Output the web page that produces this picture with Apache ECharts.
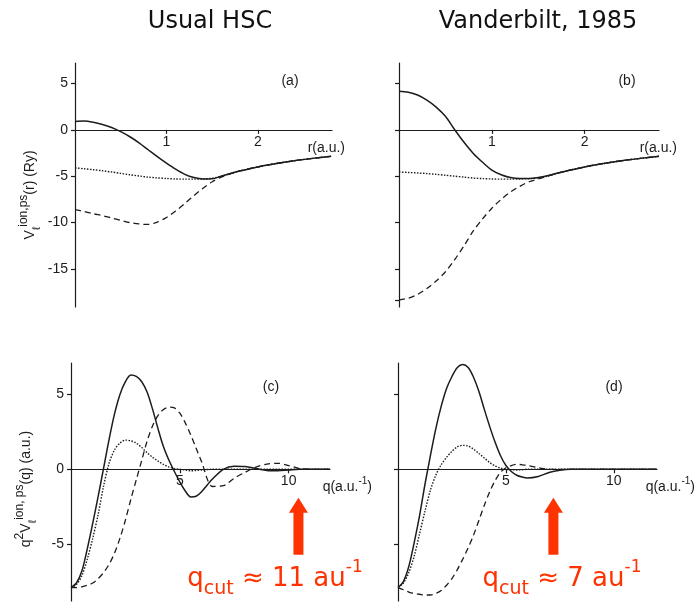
<!DOCTYPE html>
<html>
<head>
<meta charset="utf-8">
<title>Ionic pseudopotentials: usual HSC vs Vanderbilt</title>
<script src="https://cdn.jsdelivr.net/npm/echarts@6.0.0/dist/echarts.min.js"></script>
<style>
html, body { margin: 0; padding: 0; background: #fff; }
#chart { width: 697px; height: 602px; }
</style>
</head>
<body>
<div id="chart"></div>
<script>
// real space, r in a.u., V in Ry
const rA = [0, 0.1, 0.2, 0.3, 0.4, 0.5, 0.6, 0.7, 0.8, 0.9, 1.0, 1.1, 1.2, 1.3, 1.4, 1.5, 1.6, 1.8, 2.0, 2.2, 2.4, 2.6, 2.8]
const solidA = [0.9, 0.95, 0.82, 0.58, 0.25, -0.2, -0.75, -1.4, -2.15, -2.9, -3.6, -4.25, -4.8, -5.15, -5.3, -5.28, -5.0, -4.44, -4.0, -3.64, -3.33, -3.08, -2.86]
const dottedA = [-4.1, -4.2, -4.3, -4.42, -4.55, -4.7, -4.85, -4.98, -5.1, -5.18, -5.25, -5.3, -5.32, -5.32, -5.3, -5.22, -5.0, -4.44, -4.0, -3.64, -3.33, -3.08, -2.86]
const dashedA = [-8.6, -8.8, -9.05, -9.25, -9.5, -9.75, -10.0, -10.15, -10.2, -9.95, -9.45, -8.75, -7.95, -7.1, -6.3, -5.6, -5.1, -4.44, -4.0, -3.64, -3.33, -3.08, -2.86]

const rB = [0, 0.1, 0.2, 0.3, 0.4, 0.5, 0.6, 0.7, 0.8, 0.9, 1.0, 1.1, 1.2, 1.3, 1.4, 1.5, 1.6, 1.8, 2.0, 2.2, 2.4, 2.6, 2.8]
const solidB = [4.15, 4.05, 3.75, 3.2, 2.45, 1.45, 0.0, -1.35, -2.55, -3.5, -4.35, -4.85, -5.15, -5.25, -5.25, -5.15, -4.95, -4.44, -4.0, -3.64, -3.33, -3.08, -2.86]
const dottedB = [-4.55, -4.6, -4.65, -4.72, -4.8, -4.9, -5.0, -5.1, -5.2, -5.26, -5.3, -5.32, -5.32, -5.3, -5.27, -5.18, -4.98, -4.44, -4.0, -3.64, -3.33, -3.08, -2.86]
const dashedB = [-18.35, -18.15, -17.75, -17.1, -16.3, -15.3, -14.0, -12.5, -10.9, -9.6, -8.45, -7.5, -6.7, -6.1, -5.6, -5.3, -5.0, -4.44, -4.0, -3.64, -3.33, -3.08, -2.86]

// reciprocal space, q in 1/a.u., q^2 V in a.u.
const qC = [0, 0.25, 0.5, 0.75, 1, 1.25, 1.5, 1.75, 2, 2.25, 2.5, 2.75, 3, 3.25, 3.5, 3.75, 4, 4.25, 4.5, 4.75, 5, 5.25, 5.5, 5.75, 6, 6.5, 7, 7.5, 8, 8.5, 9, 9.5, 10, 10.5, 11, 11.9]
const solidC = [-7.9, -7.6, -6.8, -5.3, -3.6, -1.8, 0.1, 2.0, 3.7, 5.0, 5.85, 6.3, 6.2, 5.85, 5.15, 4.0, 2.7, 1.5, 0.6, -0.15, -0.85, -1.45, -1.85, -1.8, -1.5, -0.65, 0.0, 0.2, 0.18, 0.05, -0.08, -0.1, -0.05, 0, 0, 0]
const dottedC = [-7.9, -7.7, -7.1, -6.0, -4.6, -3.0, -1.1, 0.4, 1.3, 1.75, 1.95, 1.9, 1.75, 1.45, 1.1, 0.8, 0.55, 0.32, 0.15, 0.05, 0.0, -0.05, -0.1, -0.08, -0.05, 0, 0, 0, 0, 0, 0, 0, 0, 0, 0, 0]
const dashedC = [-7.9, -7.9, -7.85, -7.75, -7.6, -7.3, -6.9, -6.35, -5.6, -4.6, -3.4, -2.0, -0.7, 0.6, 1.9, 2.9, 3.6, 4.0, 4.15, 4.1, 3.75, 3.1, 2.3, 1.4, 0.5, -1.15, -1.1, -0.6, -0.2, 0.15, 0.35, 0.4, 0.25, 0.05, 0, 0]

const qD = [0, 0.25, 0.5, 0.75, 1, 1.25, 1.5, 1.75, 2, 2.25, 2.5, 2.75, 3, 3.25, 3.5, 3.75, 4, 4.25, 4.5, 4.75, 5, 5.25, 5.5, 5.75, 6, 6.5, 7, 7.5, 8, 8.5, 9, 9.5, 10, 10.5, 11, 12]
const solidD = [-7.9, -7.5, -6.5, -4.9, -3.1, -1.0, 0.9, 2.7, 4.2, 5.4, 6.2, 6.8, 7.0, 6.8, 6.15, 5.2, 4.0, 2.85, 1.8, 0.9, 0.25, -0.15, -0.4, -0.52, -0.58, -0.48, -0.22, -0.07, 0, 0, 0, 0, 0, 0, 0, 0]
const dottedD = [-7.9, -7.6, -6.9, -5.8, -4.3, -2.8, -1.4, -0.4, 0.3, 0.8, 1.2, 1.5, 1.6, 1.55, 1.35, 1.05, 0.75, 0.45, 0.22, 0.08, 0.0, -0.03, -0.05, -0.03, 0, 0, 0, 0, 0, 0, 0, 0, 0, 0, 0, 0]
const dashedD = [-7.9, -8.05, -8.2, -8.3, -8.35, -8.4, -8.4, -8.3, -8.1, -7.75, -7.3, -6.7, -6.0, -5.25, -4.4, -3.4, -2.4, -1.5, -0.75, -0.2, 0.1, 0.25, 0.33, 0.3, 0.25, 0.1, 0, 0, 0, 0, 0, 0, 0, 0, 0, 0]

// tick labels
const rTicks = [1, 2]
const qTicks = [5, 10]
const vTicks = [5, 0, -5, -10, -15]
const vTicksB = [5, 0, -5, -10, -15, -18.35]
const wTicks = [5, 0, -5]

// axis ranges
const vRange = [-19.1, 7.2]
const wRange = [-8.8, 7.1]

// cutoff arrows (q where the arrow points)
const qCutArrowC = 10.45
const qCutArrowD = 7.2

const INK = '#1c1c1c'
const RED = '#ff3300'
const FIG_FONT = 'Liberation Sans'

const grids = [
  { left: 75, top: 63, width: 257, height: 244 },
  { left: 399, top: 63, width: 260, height: 244 },
  { left: 71, top: 363, width: 259, height: 238 },
  { left: 398, top: 363, width: 259, height: 238 }
]

const chart = echarts.init(document.getElementById('chart'))

const axisText = { fontFamily: FIG_FONT, fontSize: 14, color: INK }

// x axis drawn through y = 0 (shifted up from the grid bottom)
function xAxisFor(gi, max, ticks, name, gap, yr) {
  const lift = grids[gi].height * (0 - yr[0]) / (yr[1] - yr[0])
  return {
    type: 'value', gridIndex: gi, min: 0, max: max,
    position: 'bottom', offset: -lift,
    axisLine: { onZero: false, lineStyle: { color: INK, width: 1.2 } },
    axisTick: { customValues: ticks, length: 4, lineStyle: { color: INK, width: 1.2 } },
    axisLabel: Object.assign({ customValues: ticks, margin: 5 }, axisText),
    splitLine: { show: false },
    name: name, nameLocation: 'end', nameGap: gap,
    nameTextStyle: Object.assign({
      align: 'right', verticalAlign: 'top', padding: [7, 0, 0, 0],
      rich: {
        t: { fontFamily: FIG_FONT, fontSize: 14, color: INK, lineHeight: 18, verticalAlign: 'bottom' },
        sup: { fontFamily: FIG_FONT, fontSize: 10, color: INK, lineHeight: 10, verticalAlign: 'top' }
      }
    }, axisText)
  }
}

function yAxisFor(gi, yr, ticks, showLabels, name, shift) {
  return {
    type: 'value', gridIndex: gi, min: yr[0], max: yr[1],
    axisLine: { onZero: false, lineStyle: { color: INK, width: 1.2 } },
    axisTick: { customValues: ticks, length: 4, lineStyle: { color: INK, width: 1.2 } },
    axisLabel: Object.assign({ show: showLabels, customValues: ticks, margin: 7 }, axisText),
    splitLine: { show: false },
    name: name || '', nameLocation: 'middle', nameRotate: 90, nameGap: 33,
    nameTextStyle: {
      padding: [0, shift || 0, 0, 0],
      rich: {
        t: { fontFamily: FIG_FONT, fontSize: 14, color: INK, lineHeight: 24, verticalAlign: 'middle' },
        sub: { fontFamily: FIG_FONT, fontSize: 11, color: INK, lineHeight: 10, verticalAlign: 'bottom' },
        sup: { fontFamily: FIG_FONT, fontSize: 12, color: INK, lineHeight: 12, verticalAlign: 'top' }
      }
    }
  }
}

function curve(gi, xs, ys, kind) {
  let style
  if (kind === 'solid') style = { type: 'solid', width: 1.5 }
  else if (kind === 'dotted') style = { type: [1.5, 1.5], width: 1.4 }
  else style = { type: [6, 4], width: 1.3 }
  return {
    type: 'line', xAxisIndex: gi, yAxisIndex: gi,
    data: xs.map((x, i) => [x, ys[i]]),
    smooth: 0.3, showSymbol: false, symbol: 'none', silent: true,
    lineStyle: Object.assign({ color: INK }, style)
  }
}

// red upward arrow marking q_cut
function cutArrow(q) {
  return {
    silent: true,
    symbol: 'path://M9.5 0 L19 15 L14.5 15 L14.5 57 L4.5 57 L4.5 15 L0 15 Z',
    symbolSize: [19, 57],
    itemStyle: { color: RED },
    label: { show: false },
    data: [{ coord: [q, -3.8] }]
  }
}

const seriesC = curve(2, qC, solidC, 'solid')
seriesC.markPoint = cutArrow(qCutArrowC)
const seriesD = curve(3, qD, solidD, 'solid')
seriesD.markPoint = cutArrow(qCutArrowD)

const cutRich = {
  q: { fontFamily: 'DejaVu Sans', fontSize: 26, fill: RED, lineHeight: 40, verticalAlign: 'middle' },
  s: { fontFamily: 'DejaVu Sans', fontSize: 19, fill: RED, lineHeight: 19, verticalAlign: 'bottom' },
  p: { fontFamily: 'DejaVu Sans', fontSize: 17, fill: RED, lineHeight: 17, verticalAlign: 'top' }
}

const option = {
  animation: false,
  backgroundColor: '#fff',
  grid: grids,
  xAxis: [
    xAxisFor(0, 2.81, rTicks, '{t|r(a.u.)}', 13, vRange),
    xAxisFor(1, 2.8, rTicks, '{t|r(a.u.)}', 18, vRange),
    xAxisFor(2, 11.9, qTicks, '{t|q(a.u.}{sup|-1}{t|)}', 42, wRange),
    xAxisFor(3, 12.0, qTicks, '{t|q(a.u.}{sup|-1}{t|)}', 38, wRange)
  ],
  yAxis: [
    yAxisFor(0, vRange, vTicks, true, '{t|V}{sub|ℓ}{sup|ion,ps}{t|(r) (Ry)}', 20),
    yAxisFor(1, vRange, vTicksB, false),
    yAxisFor(2, wRange, wTicks, true, '{t|q}{sup|2}{t|V}{sub|ℓ}{sup|ion, ps}{t|(q) (a.u.)}', 14),
    yAxisFor(3, wRange, wTicks, false)
  ],
  series: [
    curve(0, rA, solidA, 'solid'),
    curve(0, rA, dottedA, 'dotted'),
    curve(0, rA, dashedA, 'dashed'),
    curve(1, rB, solidB, 'solid'),
    curve(1, rB, dottedB, 'dotted'),
    curve(1, rB, dashedB, 'dashed'),
    seriesC,
    curve(2, qC, dottedC, 'dotted'),
    curve(2, qC, dashedC, 'dashed'),
    seriesD,
    curve(3, qD, dottedD, 'dotted'),
    curve(3, qD, dashedD, 'dashed')
  ],
  graphic: [
    { type: 'text', x: 210, y: 22, style: { text: 'Usual HSC', fontFamily: 'DejaVu Sans', fontSize: 24, fill: '#111', align: 'center', verticalAlign: 'middle' } },
    { type: 'text', x: 538, y: 22, style: { text: 'Vanderbilt, 1985', fontFamily: 'DejaVu Sans', fontSize: 24, fill: '#111', align: 'center', verticalAlign: 'middle' } },
    { type: 'text', x: 290, y: 81, style: { text: '(a)', fontFamily: FIG_FONT, fontSize: 14, fill: INK, align: 'center', verticalAlign: 'middle' } },
    { type: 'text', x: 627, y: 81, style: { text: '(b)', fontFamily: FIG_FONT, fontSize: 14, fill: INK, align: 'center', verticalAlign: 'middle' } },
    { type: 'text', x: 271, y: 387, style: { text: '(c)', fontFamily: FIG_FONT, fontSize: 14, fill: INK, align: 'center', verticalAlign: 'middle' } },
    { type: 'text', x: 614, y: 387, style: { text: '(d)', fontFamily: FIG_FONT, fontSize: 14, fill: INK, align: 'center', verticalAlign: 'middle' } },
    { type: 'text', x: 275, y: 579, style: { text: '{q|q}{s|cut}{q| ≈ 11 au}{p|-1}', rich: cutRich, align: 'center', verticalAlign: 'middle' } },
    { type: 'text', x: 562, y: 579, style: { text: '{q|q}{s|cut}{q| ≈ 7 au}{p|-1}', rich: cutRich, align: 'center', verticalAlign: 'middle' } }
  ]
}

chart.setOption(option)
</script>
</body>
</html>
